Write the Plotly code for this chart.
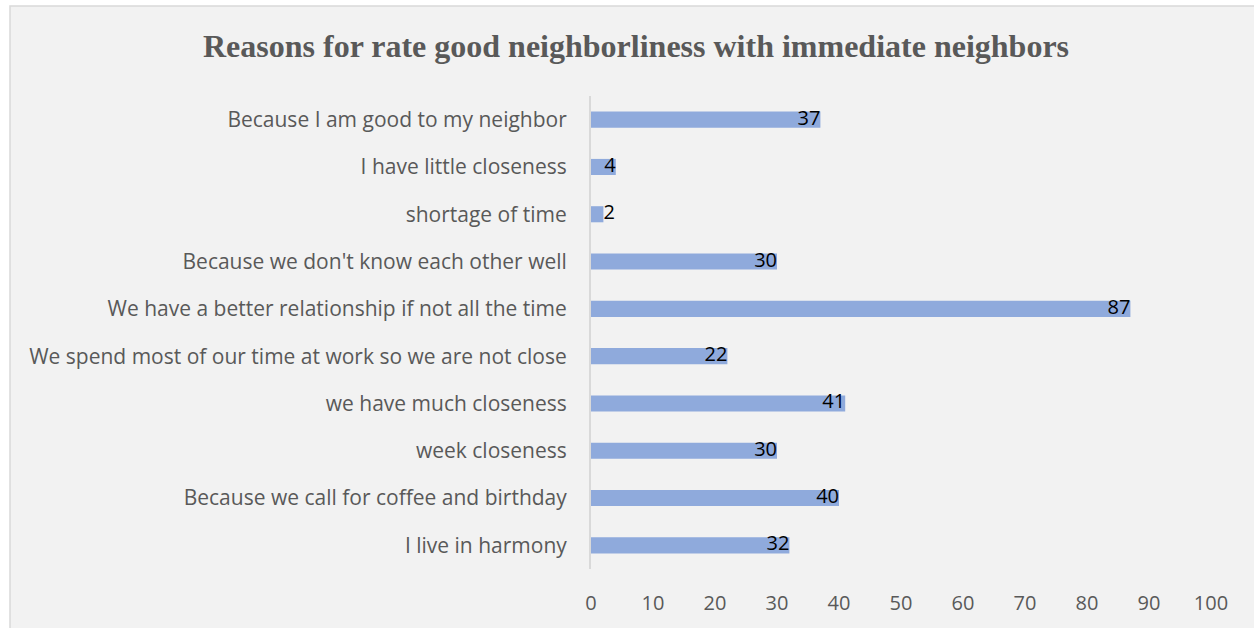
import plotly.graph_objects as go

categories = [
    "I live in harmony",
    "Because we call for coffee and birthday",
    "week closeness",
    "we have much closeness",
    "We spend most of our time at work so we are not close",
    "We have a better relationship if not all the time",
    "Because we don't know each other well",
    "shortage of time",
    "I have little closeness",
    "Because I am good to my neighbor",
]
values = [32, 40, 30, 41, 22, 87, 30, 2, 4, 37]
x_ticks = [0, 10, 20, 30, 40, 50, 60, 70, 80, 90, 100]
title_text = "Reasons for rate good neighborliness with immediate neighbors"

label_pos = ["middle left" if v > 3 else "middle right" for v in values]

fig = go.Figure()
fig.add_trace(go.Bar(
    y=categories, x=values, orientation="h",
    marker=dict(color="#8faadc", line=dict(width=0)),
    width=0.34, hoverinfo="skip",
))
fig.add_trace(go.Scatter(
    y=categories, x=values, mode="text",
    text=[str(v) for v in values],
    textposition=label_pos,
    textfont=dict(family="Open Sans", size=20, color="#000000"),
    hoverinfo="skip",
))

fig.update_layout(
    width=1254, height=628,
    paper_bgcolor="#ffffff",
    plot_bgcolor="rgba(0,0,0,0)",
    margin=dict(l=591, r=43, t=96, b=48),
    showlegend=False,
    title=dict(
        text="<b>" + title_text + "</b>",
        x=636 / 1254, xanchor="center", xref="container",
        y=1 - 46 / 628, yanchor="middle", yref="container",
        font=dict(family="Liberation Serif", size=32, color="#595959"),
    ),
    xaxis=dict(
        range=[0, 100], tickvals=x_ticks, showgrid=False, zeroline=False,
        showline=False, ticks="", ticklabelstandoff=20,
        tickfont=dict(family="Open Sans", size=20, color="#595959"),
    ),
    yaxis=dict(
        showgrid=False, zeroline=False, showline=True, linecolor="#d9d9d9",
        linewidth=2, ticks="", ticklabelstandoff=18,
        tickfont=dict(family="Open Sans", size=21, color="#595959"),
        categoryorder="array", categoryarray=categories,
    ),
    shapes=[dict(
        type="rect", xref="paper", yref="paper", layer="below",
        x0=-581 / 620, x1=1 + 60 / 620, y0=-80 / 484, y1=1 + 92 / 484,
        fillcolor="#f2f2f2", line=dict(color="#d9d9d9", width=1.5),
    )],
)

fig.write_html("out.html", config={"displayModeBar": False})

with open("out.html", "r", encoding="utf-8") as f:
    html = f.read()
html = html.replace("<head>", "<head><style>html,body{margin:0;padding:0;overflow:hidden;}</style>", 1)
with open("out.html", "w", encoding="utf-8") as f:
    f.write(html)
